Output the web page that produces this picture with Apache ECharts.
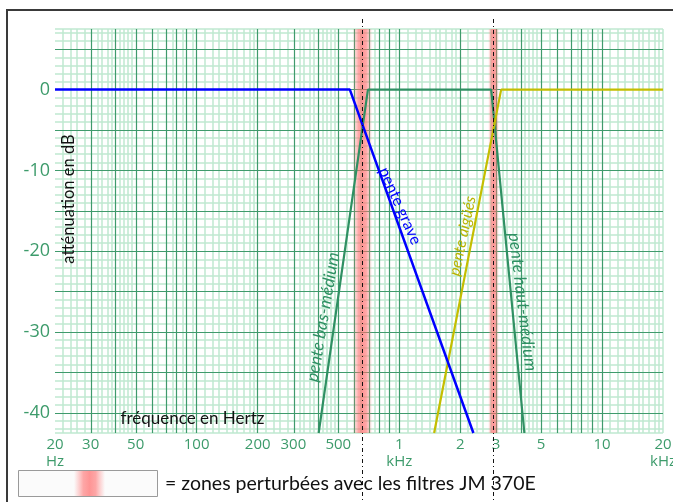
<!DOCTYPE html>
<html><head><meta charset="utf-8">
<script src="https://cdn.jsdelivr.net/npm/echarts@6/dist/echarts.min.js"></script>
<style>html,body{margin:0;padding:0;background:#fff}#c{width:673px;height:502px}</style>
</head><body><div id="c"></div>
<script>
// ---- data ----
const tickFreqs = [20, 30, 50, 100, 200, 300, 500, 1000, 2000, 3000, 5000, 10000, 20000];
const tickLabels = ['20\nHz', '30', '50', '100', '200', '300', '500', '1\nkHz', '2', '3', '5', '10', '20\nkHz'];
const dbTicks = [0, -10, -20, -30, -40];
const graveFreq = [20, 570, 2320];
const graveDb = [0, 0, -42.5];
const medFreq = [400, 700, 2840, 4140];
const medDb = [-42.5, 0, 0, -42.5];
const aiguFreq = [1485, 3180, 20000];
const aiguDb = [-42.5, 0, 0];
const zoneStart = [588, 2745];
const zoneEnd = [735, 3100];
const zoneCenter = [653, 2910];

const L = f => Math.log10(f);
const XMIN = L(20), XMAX = L(20000), YMIN = -42.5, YMAX = 7.5;

// grid line positions (log paper)
const majorX = [], minorX = [XMIN, XMAX];
[10, 100, 1000, 10000].forEach(D => {
  for (let m = 1; m <= 9; m++) { const f = m * D; if (f > 20 && f < 20000) majorX.push(L(f)); }
  [[1, 2, 0.1], [2, 5, 0.2], [5, 10, 0.5]].forEach(([a, b, s]) => {
    for (let k = a + s; k < b - 1e-9; k += s) {
      const f = k * D;
      if (f > 20 && f < 20000 && Math.abs(k - Math.round(k)) > 1e-6) minorX.push(L(f));
    }
  });
});
const majorY = [], minorY = [YMIN, YMAX];
for (let v = -40; v <= 5; v += 5) majorY.push(v);
for (let v = -42; v <= 7; v++) if (v % 5 !== 0) minorY.push(v);

const GREEN_TXT = '#3d9b6b';
const pts = (fs, ds) => fs.map((f, i) => [L(f), ds[i]]);

const chart = echarts.init(document.getElementById('c'), null, {renderer: 'canvas'});
const bandGrad = () => new echarts.graphic.LinearGradient(0, 0, 1, 0, [
  {offset: 0, color: 'rgba(255,120,120,0)'},
  {offset: 0.15, color: 'rgba(255,120,120,0.3)'},
  {offset: 0.3, color: 'rgba(255,110,110,0.6)'},
  {offset: 0.5, color: 'rgba(255,105,105,0.7)'},
  {offset: 0.7, color: 'rgba(255,110,110,0.6)'},
  {offset: 0.85, color: 'rgba(255,120,120,0.3)'},
  {offset: 1, color: 'rgba(255,120,120,0)'}
]);
const gridLines = (xs, ys, color, width, z) => ({
  type: 'line', data: [], silent: true,
  markLine: {silent: true, symbol: ['none', 'none'], label: {show: false}, z,
    lineStyle: {color, width, type: 'solid'},
    emphasis: {disabled: true},
    data: xs.map(v => ({xAxis: v})).concat(ys.map(v => ({yAxis: v})))}
});

chart.setOption({
  animation: false,
  backgroundColor: '#fff',
  grid: {left: 55, top: 29, width: 608, height: 404, show: false, outerBoundsMode: 'none', containLabel: false},
  xAxis: {type: 'value', min: XMIN, max: XMAX,
    axisLine: {show: false}, axisTick: {show: false}, splitLine: {show: false},
    axisLabel: {customValues: tickFreqs.map(L), color: GREEN_TXT, fontSize: 15, lineHeight: 17,
      fontFamily: 'Open Sans', margin: 3, showMinLabel: true, showMaxLabel: true, hideOverlap: false,
      formatter: v => { const i = tickFreqs.findIndex(f => Math.abs(L(f) - v) < 1e-6); return i >= 0 ? tickLabels[i] : ''; }}},
  yAxis: {type: 'value', min: YMIN, max: YMAX,
    axisLine: {show: false}, axisTick: {show: false}, splitLine: {show: false},
    axisLabel: {customValues: dbTicks, color: GREEN_TXT, fontSize: 18, fontFamily: 'Open Sans', margin: 5}},
  series: [
    gridLines(minorX, minorY, '#bfe8d1', 1.5, 0.5),
    gridLines(majorX, majorY, '#3f9a6c', 1.2, 0.8),
    {type: 'line', name: 'zones', data: [], symbol: 'none',
     markArea: {silent: true, z: 1, itemStyle: {color: bandGrad()},
       data: zoneStart.map((s, i) => [{xAxis: L(s)}, {xAxis: L(zoneEnd[i])}])}},
    {type: 'line', name: 'pente bas/haut-médium', data: pts(medFreq, medDb),
     symbol: 'none', lineStyle: {color: '#2f9063', width: 2.2}},
    {type: 'line', name: 'pente aigües', data: pts(aiguFreq, aiguDb),
     symbol: 'none', lineStyle: {color: '#c4be00', width: 2.2}},
    {type: 'line', name: 'pente grave', data: pts(graveFreq, graveDb),
     symbol: 'none', lineStyle: {color: '#0000ff', width: 2.5}}
  ]
});

const px = v => chart.convertToPixel({xAxisIndex: 0}, L(v));
const deg = d => d * Math.PI / 180;
const txt = (x, y, text, rot, color, size, italic, fam) => ({
  type: 'text', x, y, rotation: deg(rot), z: 50,
  style: {text, fill: color, fontSize: size, fontStyle: italic ? 'italic' : 'normal',
    fontFamily: fam || 'Lato', align: 'center', verticalAlign: 'middle'}
});
const graphics = [
  {type: 'rect', shape: {x: 7, y: 10, width: 720, height: 560}, style: {fill: 'none', stroke: '#3a3a3a', lineWidth: 2}, z: 60},
  {type: 'rect', shape: {x: 18.5, y: 470.5, width: 139, height: 26}, style: {fill: '#fbfbfb', stroke: '#9a9a9a', lineWidth: 1}, z: 40},
  {type: 'rect', shape: {x: 74, y: 471, width: 31, height: 25}, style: {fill: bandGrad()}, z: 41},
  {type: 'text', x: 165, y: 484, z: 50, style: {text: '= zones perturbées avec les filtres JM 370E', fill: '#111', fontSize: 19.5, fontFamily: 'Lato', verticalAlign: 'middle', align: 'left'}},
  txt(69, 199, 'atténuation en dB', 90, '#111', 16.5),
  txt(192.5, 419, 'fréquence en Hertz', 0, '#111', 17),
  txt(323, 317, 'pente bas-médium', 80.5, '#2f9063', 17, true),
  txt(400, 206, 'pente grave', -66, '#0000ff', 16, false),
  txt(462.5, 236, 'pente aigüés', 78, '#b7b300', 15.5, true),
  txt(522.5, 302, 'pente haut-médium', -83, '#2f9063', 17, true)
];
zoneCenter.forEach(f => {
  const x = Math.round(px(f)) + 0.5;
  graphics.push({type: 'line', z: 55, shape: {x1: x, y1: 19, x2: x, y2: 502},
    style: {stroke: '#111', lineWidth: 1, lineDash: [4, 3, 1, 3]}});
});
chart.setOption({graphic: graphics});
</script></body></html>
